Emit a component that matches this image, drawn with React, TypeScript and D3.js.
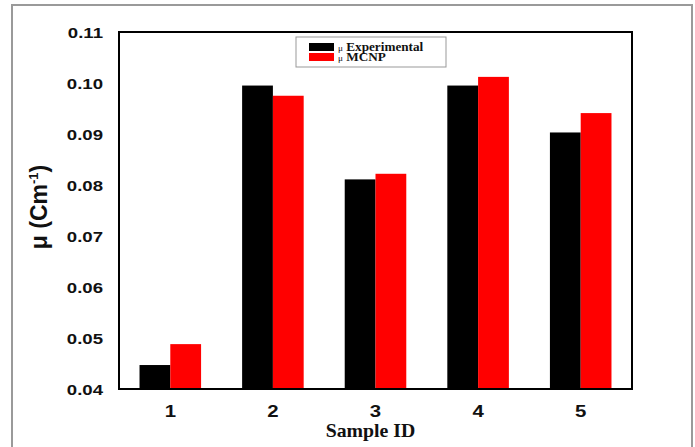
import React from "react";
import * as d3 from "d3";

const categories = ["1", "2", "3", "4", "5"];
const experimental = [0.0447, 0.0995, 0.0811, 0.0995, 0.0903];
const mcnp = [0.0488, 0.0975, 0.0822, 0.1012, 0.0941];
const yTicks = [0.04, 0.05, 0.06, 0.07, 0.08, 0.09, 0.1, 0.11];
const seriesNames = ["Experimental", "MCNP"];
const seriesColors = ["#000000", "#ff0000"];

const SANS = "Liberation Sans, Arial, sans-serif";
const SERIF = "Liberation Serif, Times New Roman, serif";

export default function App() {
  const W = 695, H = 447;
  const left = 119, right = 632, top = 32, bottom = 389;
  const x = d3.scaleBand().domain(categories).range([left, right]).paddingInner(0.4).paddingOuter(0.2);
  const y = d3.scaleLinear().domain([0.04, 0.11]).range([bottom, top]);
  const inner = d3.scaleBand().domain(seriesNames).range([0, x.bandwidth()]);
  const series = [experimental, mcnp];
  return (
    <svg width={W} height={H} style={{ position: "absolute", left: 0, top: 0 }}>
      <rect x={0} y={0} width={W} height={H} fill="#fff" />
      <rect x={12} y={5} width={680} height={460} fill="none" stroke="#9a9a9a" strokeWidth={2} />
      {categories.map((c, i) =>
        series.map((s, j) => (
          <rect key={c + j} x={(x(c) as number) + (inner(seriesNames[j]) as number)} y={y(s[i])}
            width={inner.bandwidth()} height={bottom - y(s[i])} fill={seriesColors[j]} />
        ))
      )}
      <rect x={left} y={top} width={right - left} height={bottom - top} fill="none" stroke="#000" strokeWidth={2} />
      {yTicks.map((t) => (
        <text key={t} transform={`translate(103,${y(t) + 5.5}) scale(1.2,1)`} textAnchor="end" fontFamily={SANS}
          fontWeight="bold" fontSize={15.5} fill="#111">{t.toFixed(2)}</text>
      ))}
      {categories.map((c) => (
        <text key={c} transform={`translate(${(x(c) as number) + x.bandwidth() / 2},417) scale(1.2,1)`} textAnchor="middle"
          fontFamily={SANS} fontWeight="bold" fontSize={17} fill="#111">{c}</text>
      ))}
      <text transform={`translate(${(left + right) / 2 - 5},437) scale(1.1,1)`} textAnchor="middle" fontFamily={SERIF}
        fontWeight="bold" fontSize={18} fill="#111">Sample ID</text>
      <text transform={`translate(47,207) rotate(-90)`} textAnchor="middle"
        fontFamily={SANS} fontWeight="bold" fontSize={23} fill="#111">
        μ (Cm<tspan dy="-9" fontSize={13}>-1</tspan><tspan dy="9">)</tspan>
      </text>
      <rect x={296} y={37} width={150} height={30} fill="#fff" stroke="#999" strokeWidth={1} />
      {seriesNames.map((n, j) => (
        <g key={n}>
          <rect x={309} y={43 + j * 10} width={25} height={8} fill={seriesColors[j]} />
          <text transform={`translate(338,${51 + j * 10}) scale(1.15,1)`} fontFamily={SERIF} fontWeight="bold"
            fontSize={11.5} fill="#111">
            <tspan fontSize={8} fontWeight="normal">μ</tspan>{j === 1 ? "  " : " "}{n}
          </text>
        </g>
      ))}
    </svg>
  );
}
